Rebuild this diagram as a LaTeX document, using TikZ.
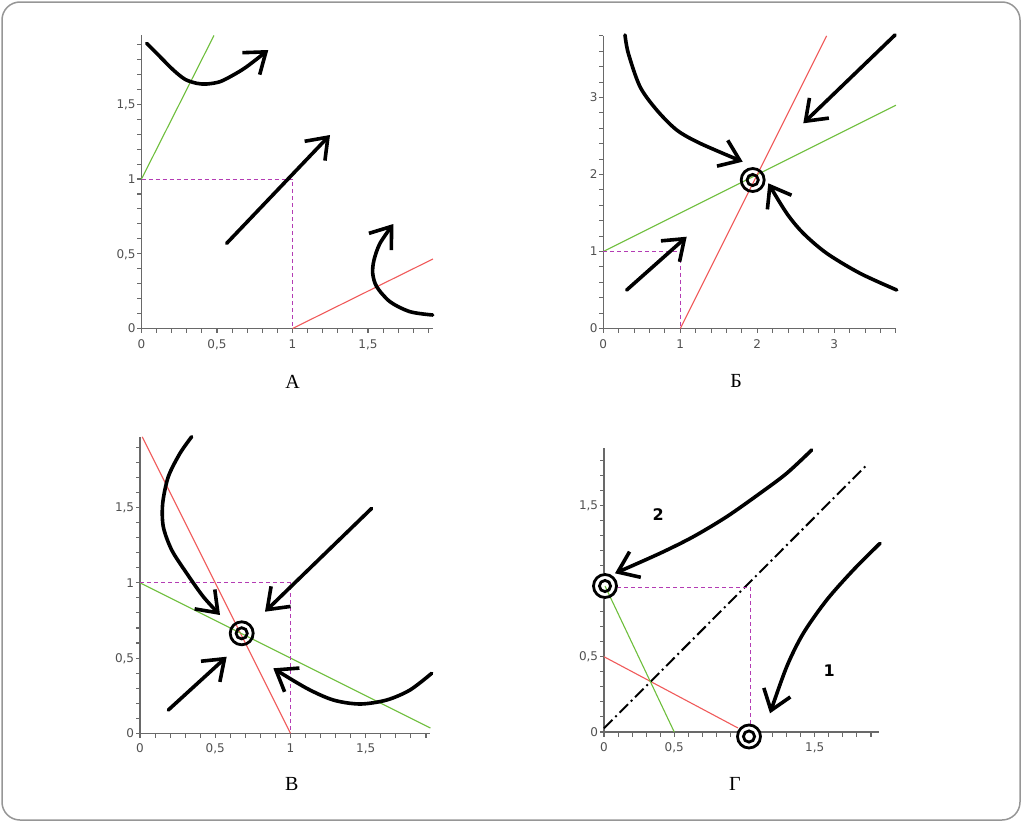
\documentclass[tikz,border=0pt]{standalone}
\usepackage{fontspec}
\setmainfont{Liberation Serif}
\newfontfamily\tickfont{DejaVu Sans}
\usetikzlibrary{arrows.meta}

\definecolor{framegrey}{RGB}{150,150,150}
\definecolor{axisgrey}{RGB}{105,105,105}
\definecolor{tickgrey}{RGB}{80,80,80}
\definecolor{linegreen}{RGB}{110,190,60}
\definecolor{linered}{RGB}{240,90,90}
\definecolor{guidemag}{RGB}{180,60,180}

\tikzset{every picture/.style={line width=0.75pt}}
\tikzset{
  axisline/.style={draw=axisgrey, line width=1.3pt},
  tickmark/.style={draw=axisgrey, line width=1.1pt},
  ticklab/.style={inner sep=0pt, font=\tickfont\fontsize{12}{13}\selectfont, text=tickgrey},
  panellab/.style={inner sep=0pt, font=\fontsize{20}{22}\selectfont},
  numlab/.style={inner sep=0pt, font=\tickfont\bfseries\fontsize{16}{18}\selectfont},
  isoline/.style={line width=1.1pt},
  guide/.style={draw=guidemag, line width=1pt, dash pattern=on 4pt off 3pt},
  diagline/.style={line width=2pt, dash pattern=on 12pt off 4pt on 2pt off 4pt},
  flow/.style={line width=3.6pt, line cap=round, line join=round, -{Straight Barb[length=19pt,width=28pt]}},
  fixpt/.style={line width=2.8pt},
}

% panel A
\def \aX {141.5}
\def \aY {328.5}
\def \aSx {151}
\def \aSy {149.5}
% panel B
\def \bX {603.3}
\def \bY {328.5}
\def \bS {77}
% panel C
\def \cX {140}
\def \cY {733.3}
\def \cS {150.5}
% panel D
\def \dX {604}
\def \dY {732}
\def \dSx {140.5}
\def \dSy {151}

\begin{document}
\begin{tikzpicture}[x=1pt,y=1pt,yscale=-1,xscale=1]

	\useasboundingbox (0,0) rectangle (1022,822);
	%Rounded Rect: frame
	\draw [framegrey, line width=1.5pt, rounded corners=18pt] (2,2) rectangle (1020,820);

	%%%%%%%%%%%%%%%% panel A
	%Shape: Axes
	\draw [axisline] (\aX,\aY) -- (\aX+1.93*\aSx,\aY);
	\draw [axisline] (\aX,\aY) -- (\aX,\aY-1.96*\aSy);
	\foreach \i in {0,...,19} {
		\draw [tickmark] (\aX+\i*\aSx/10,\aY) -- ++(0,4.5);
		\draw [tickmark] (\aX,\aY-\i*\aSy/10) -- ++(-4.5,0);
	}
	% Text Node
	\foreach \v/\s [count=\k] in {0/0,0.5/{0,5},1/1,1.5/{1,5}} {
		\draw (\aX+\v*\aSx,\aY+19.5) node (aTx\k) [ticklab, anchor=base] {\s};
		\draw (\aX-5.5,\aY-\v*\aSy+4.3) node (aTy\k) [ticklab, anchor=base east] {\s};
	}
	%Shape: Lines
	\draw [isoline, linegreen] (\aX,\aY-\aSy) -- (\aX+0.48*\aSx,\aY-1.96*\aSy);
	\draw [isoline, linered] (\aX+\aSx,\aY) -- (\aX+1.93*\aSx,\aY-0.465*\aSy);
	\draw [guide] (\aX,\aY-\aSy) -- (\aX+\aSx,\aY-\aSy) -- (\aX+\aSx,\aY);
	%Shape: Flows
	\draw [flow] plot [smooth] coordinates {(146.7,43.3) (160,56.7) (173.3,70) (185,79.3) (196.7,83.3) (206.7,84) (220,81.7) (233.3,75) (246.7,66.7) (268.3,50)};
	\draw [flow] (226.7,243.3) -- (330,135);
	\draw [flow] plot [smooth] coordinates {(432.7,315) (410,311.7) (390,301.7) (376.7,286.7) (372.7,273.3) (374,260) (380,243.3) (393.3,224)};
	% Text Node
	\draw (292.5,388.3) node (labA) [panellab, anchor=base] {А};

	%%%%%%%%%%%%%%%% panel B
	%Shape: Axes
	\draw [axisline] (\bX,\bY) -- (\bX+3.8*\bS,\bY);
	\draw [axisline] (\bX,\bY) -- (\bX,\bY-3.8*\bS);
	\foreach \i in {0,...,19} {
		\draw [tickmark] (\bX+\i*\bS/5,\bY) -- ++(0,4.5);
		\draw [tickmark] (\bX,\bY-\i*\bS/5) -- ++(-4.5,0);
	}
	% Text Node
	\foreach \v [count=\k] in {0,1,2,3} {
		\draw (\bX+\v*\bS,\bY+19.5) node (bTx\k) [ticklab, anchor=base] {\v};
		\draw (\bX-5.5,\bY-\v*\bS+4.3) node (bTy\k) [ticklab, anchor=base east] {\v};
	}
	%Shape: Lines
	\draw [isoline, linegreen] (\bX,\bY-\bS) -- (\bX+3.8*\bS,\bY-2.9*\bS);
	\draw [isoline, linered] (\bX+\bS,\bY) -- (\bX+2.9*\bS,\bY-3.8*\bS);
	\draw [guide] (\bX,\bY-\bS) -- (\bX+\bS,\bY-\bS) -- (\bX+\bS,\bY);
	%Shape: Flows
	\draw [flow] plot [smooth] coordinates {(625,35) (628.3,53.3) (640,86.7) (656.7,110) (676.7,130) (700,143.3) (742.7,161.7)};
	\draw [flow] (895,35) -- (803.3,123.3);
	\draw [flow] plot [smooth] coordinates {(896.7,290) (860,273.3) (826.7,253.3) (803.3,233.3) (786.7,213.3) (768.3,183.3)};
	\draw [flow] (626.7,290) -- (686.7,236.7);
	%Shape: Fixed point
	\draw [fixpt] (752.7,180) circle (11.5);
	\draw [fixpt] (752.7,180) circle (5.6);
	% Text Node
	\draw (736,387.5) node (labB) [panellab, anchor=base] {Б};

	%%%%%%%%%%%%%%%% panel C
	%Shape: Axes
	\draw [axisline] (\cX,\cY) -- (\cX+1.93*\cS,\cY);
	\draw [axisline] (\cX,\cY) -- (\cX,\cY-1.97*\cS);
	\foreach \i in {0,...,19} {
		\draw [tickmark] (\cX+\i*\cS/10,\cY) -- ++(0,4.5);
		\draw [tickmark] (\cX,\cY-\i*\cS/10) -- ++(-4.5,0);
	}
	% Text Node
	\foreach \v/\s [count=\k] in {0/0,0.5/{0,5},1/1,1.5/{1,5}} {
		\draw (\cX+\v*\cS,\cY+19.5) node (cTx\k) [ticklab, anchor=base] {\s};
		\draw (\cX-5.5,\cY-\v*\cS+4.3) node (cTy\k) [ticklab, anchor=base east] {\s};
	}
	%Shape: Lines
	\draw [isoline, linered] (\cX+0.015*\cS,\cY-1.97*\cS) -- (\cX+\cS,\cY);
	\draw [isoline, linegreen] (\cX,\cY-\cS) -- (\cX+1.93*\cS,\cY-0.035*\cS);
	\draw [guide] (\cX,\cY-\cS) -- (\cX+\cS,\cY-\cS) -- (\cX+\cS,\cY);
	%Shape: Flows
	\draw [flow] plot [smooth] coordinates {(191.7,436.7) (180,453.3) (168.3,476.7) (162.7,503.3) (163.3,526.7) (171.7,550) (186.7,573.3) (203.3,596.7) (220,615)};
	\draw [flow] (371.7,508.3) -- (265,611.7);
	\draw [flow] (168.3,710) -- (226.7,656.7);
	\draw [flow] plot [smooth] coordinates {(431.7,673.3) (410,690) (386.7,700) (360,704) (333.3,700) (306.7,688.3) (273.3,668.3)};
	%Shape: Fixed point
	\draw [fixpt] (241.7,633.3) circle (11.5);
	\draw [fixpt] (241.7,633.3) circle (5.6);
	% Text Node
	\draw (291.7,790) node (labC) [panellab, anchor=base] {В};

	%%%%%%%%%%%%%%%% panel D
	%Shape: Axes
	\draw [axisline] (\dX,\dY) -- (\dX+1.96*\dSx,\dY);
	\draw [axisline] (\dX,\dY) -- (\dX,\dY-1.88*\dSy);
	\foreach \i in {0,...,19} {
		\draw [tickmark] (\dX+\i*\dSx/10,\dY) -- ++(0,4.5);
	}
	\foreach \i in {0,...,18} {
		\draw [tickmark] (\dX,\dY-\i*\dSy/10) -- ++(-4.5,0);
	}
	% Text Node
	\foreach \v/\s [count=\k] in {0/0,0.5/{0,5},1.5/{1,5}} {
		\draw (\dX+\v*\dSx,\dY+19.5) node (dTx\k) [ticklab, anchor=base] {\s};
		\draw (\dX-5.5,\dY-\v*\dSy+4.3) node (dTy\k) [ticklab, anchor=base east] {\s};
	}
	%Shape: Lines
	\draw [isoline, linered] (\dX,656.7) -- (738,728);
	\draw [diagline] (\dX,728.3) -- (866.7,465);
	\draw [guide] (617,587.3) -- (750,587.3) -- (750,724);
	%Shape: Flows
	\draw [flow] plot [smooth] coordinates {(811.7,450) (786.7,473.3) (760,493.3) (726.7,516.7) (693.3,536.7) (660,553.3) (615,573.3)};
	\draw [flow] plot [smooth] coordinates {(880,543.3) (853.3,570) (826.7,600) (803.3,633.3) (786.7,666.7) (770,713.3)};
	%Shape: Fixed points
	\fill [white] (605,586) circle (12.8);
	\draw [isoline, linegreen] (605,586) -- (\dX+0.5*\dSx,\dY);
	\draw [fixpt] (605,586) circle (11.5);
	\draw [fixpt] (605,586) circle (5.6);
	\draw [fixpt, fill=white] (749,736.5) circle (11.5);
	\draw [fixpt] (749,736.5) circle (5.6);
	% Text Node
	\draw (658.3,515) node (num2) [numlab] {2};
	\draw (829.3,670.7) node (num1) [numlab] {1};
	\draw (735,790.5) node (labD) [panellab, anchor=base] {Г};

\end{tikzpicture}
\end{document}
